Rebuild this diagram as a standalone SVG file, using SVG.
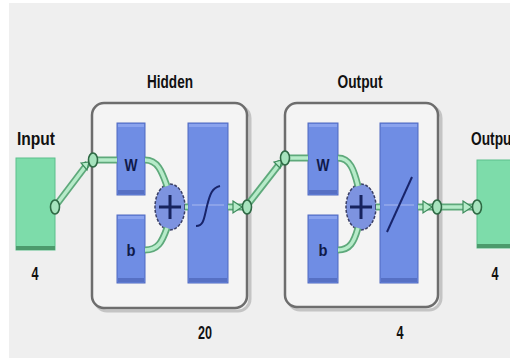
<svg xmlns="http://www.w3.org/2000/svg" width="510" height="358" viewBox="0 0 510 358">
<defs>
<style>
.t{font-family:"Liberation Sans","DejaVu Sans",sans-serif;font-weight:bold;font-size:18px;fill:#111;text-anchor:middle}
.lt{font-family:"Liberation Sans","DejaVu Sans",sans-serif;font-weight:bold;font-size:17px;fill:#0f1a4a;text-anchor:middle}
.layer{fill:#f4f4f4;stroke:#6d6d6d;stroke-width:2.5}
.shadow{fill:none;stroke:#c4c4c4;stroke-width:3}
.blue{fill:#6f8de4;stroke:#4f68c0;stroke-width:1}
.bhi{fill:#8aa3ee}
.blo{fill:#5670c4}
.green{fill:#7ddcaa;stroke:#5cbf8c;stroke-width:1}
.glo{fill:#4c9a6c}
.co{fill:none;stroke:#5ea97b;stroke-width:7;stroke-linecap:butt}
.ci{fill:none;stroke:#b6ebc9;stroke-width:3.5;stroke-linecap:butt}
.port{fill:#a6e3bd;stroke:#2f6a45;stroke-width:1.6}
.sum{fill:#7d93e0;stroke:#3a3f66;stroke-width:1.5;stroke-dasharray:3 1.5}
.plus{stroke:#17235e;stroke-width:3}
.fn{fill:none;stroke:#18246a;stroke-width:2}
.mid{stroke:#a9b8ee;stroke-width:1}
.arr{fill:#b6ebc9;stroke:#3c8a5b;stroke-width:1.2}
</style>
</defs>
<rect x="0" y="0" width="510" height="358" fill="#ffffff"/>
<rect x="9" y="3" width="501" height="355" fill="#efefef"/>

<g id="input">
<text class="t" x="36" y="145" textLength="38" lengthAdjust="spacingAndGlyphs">Input</text>
<rect class="green" x="16" y="158" width="39" height="92"/>
<rect class="glo" x="16" y="246" width="39" height="4"/>
<text class="t" x="35" y="280" textLength="7" lengthAdjust="spacingAndGlyphs">4</text>
</g>

<g id="hidden">
<text class="t" x="170" y="88" textLength="46" lengthAdjust="spacingAndGlyphs">Hidden</text>
<rect class="shadow" x="95" y="106" width="155" height="205" rx="12"/>
<rect class="layer" x="92" y="103" width="155" height="205" rx="12"/>
<rect class="blue" x="117" y="123" width="28" height="72"/>
<rect class="bhi" x="118" y="124" width="26" height="3"/>
<rect class="blo" x="118" y="190" width="26" height="4"/>
<text class="lt" x="131" y="171" textLength="13" lengthAdjust="spacingAndGlyphs">W</text>
<rect class="blue" x="117" y="215" width="28" height="68"/>
<rect class="bhi" x="118" y="216" width="26" height="3"/>
<rect class="blo" x="118" y="278" width="26" height="4"/>
<text class="lt" x="131" y="256" textLength="9" lengthAdjust="spacingAndGlyphs">b</text>
<ellipse class="sum" cx="170" cy="207" rx="15" ry="23"/>
<line class="plus" x1="170" y1="195" x2="170" y2="219"/>
<line class="plus" x1="159" y1="207" x2="181" y2="207"/>
<rect class="blue" x="188" y="123" width="40" height="160"/>
<rect class="bhi" x="189" y="124" width="38" height="3"/>
<rect class="blo" x="189" y="278" width="38" height="4"/>
<line class="mid" x1="192" y1="205" x2="224" y2="205"/>
<path class="fn" d="M196,226 C204,226 204,218 207,206 C210,194 212,188 220,186"/>
<text class="t" x="205" y="339" textLength="14" lengthAdjust="spacingAndGlyphs">20</text>
</g>

<g id="output-layer">
<text class="t" x="360" y="88" textLength="45" lengthAdjust="spacingAndGlyphs">Output</text>
<rect class="shadow" x="288" y="106" width="153" height="204" rx="12"/>
<rect class="layer" x="285" y="103" width="153" height="204" rx="12"/>
<rect class="blue" x="308" y="123" width="30" height="72"/>
<rect class="bhi" x="309" y="124" width="28" height="3"/>
<rect class="blo" x="309" y="190" width="28" height="4"/>
<text class="lt" x="323" y="171" textLength="13" lengthAdjust="spacingAndGlyphs">W</text>
<rect class="blue" x="308" y="215" width="30" height="68"/>
<rect class="bhi" x="309" y="216" width="28" height="3"/>
<rect class="blo" x="309" y="278" width="28" height="4"/>
<text class="lt" x="323" y="256" textLength="9" lengthAdjust="spacingAndGlyphs">b</text>
<ellipse class="sum" cx="361" cy="207" rx="15" ry="23"/>
<line class="plus" x1="361" y1="195" x2="361" y2="219"/>
<line class="plus" x1="350" y1="207" x2="372" y2="207"/>
<rect class="blue" x="380" y="123" width="38" height="160"/>
<rect class="bhi" x="381" y="124" width="36" height="3"/>
<rect class="blo" x="381" y="278" width="36" height="4"/>
<line class="mid" x1="384" y1="205" x2="414" y2="205"/>
<line class="fn" x1="387" y1="232" x2="412" y2="177"/>
<text class="t" x="400" y="339" textLength="7" lengthAdjust="spacingAndGlyphs">4</text>
</g>

<g id="output">
<text class="t" x="471" y="145" text-anchor="start" style="text-anchor:start" textLength="45" lengthAdjust="spacingAndGlyphs">Output</text>
<rect class="green" x="477" y="160" width="40" height="88"/>
<rect class="glo" x="477" y="244" width="40" height="4"/>
<text class="t" x="495" y="280" textLength="7" lengthAdjust="spacingAndGlyphs">4</text>
</g>

<g id="connectors">
<line class="co" x1="57" y1="204" x2="88" y2="163"/>
<line class="ci" x1="57" y1="204" x2="88" y2="163"/>
<path class="arr" d="M81,163 L89,162 L87,170 Z"/>
<line class="co" x1="96" y1="160" x2="117" y2="160"/>
<line class="ci" x1="96" y1="160" x2="117" y2="160"/>
<path class="co" d="M145,160 C158,160 162,172 167,186"/>
<path class="ci" d="M145,160 C158,160 162,172 167,186"/>
<path class="co" d="M145,250 C158,250 162,242 167,228"/>
<path class="ci" d="M145,250 C158,250 162,242 167,228"/>
<line class="co" x1="185" y1="207" x2="188" y2="207"/>
<line class="ci" x1="185" y1="207" x2="188" y2="207"/>
<line class="co" x1="228" y1="207" x2="244" y2="207"/>
<line class="ci" x1="228" y1="207" x2="244" y2="207"/>
<path class="arr" d="M233,201 L242,207 L233,213 Z"/>
<line class="co" x1="249" y1="203" x2="281" y2="162"/>
<line class="ci" x1="249" y1="203" x2="281" y2="162"/>
<path class="arr" d="M274,162 L282,160 L280,168 Z"/>
<line class="co" x1="288" y1="158" x2="308" y2="158"/>
<line class="ci" x1="288" y1="158" x2="308" y2="158"/>
<path class="co" d="M338,158 C350,158 354,170 358,186"/>
<path class="ci" d="M338,158 C350,158 354,170 358,186"/>
<path class="co" d="M338,250 C350,250 354,242 358,228"/>
<path class="ci" d="M338,250 C350,250 354,242 358,228"/>
<line class="co" x1="376" y1="207" x2="380" y2="207"/>
<line class="ci" x1="376" y1="207" x2="380" y2="207"/>
<line class="co" x1="418" y1="207" x2="434" y2="207"/>
<line class="ci" x1="418" y1="207" x2="434" y2="207"/>
<path class="arr" d="M423,201 L432,207 L423,213 Z"/>
<line class="co" x1="440" y1="207" x2="474" y2="207"/>
<line class="ci" x1="440" y1="207" x2="474" y2="207"/>
<path class="arr" d="M463,201 L472,207 L463,213 Z"/>
</g>

<g id="ports">
<ellipse class="port" cx="55" cy="207" rx="4.5" ry="7"/>
<ellipse class="port" cx="93" cy="160" rx="4.5" ry="7"/>
<ellipse class="port" cx="247" cy="207" rx="4.5" ry="7"/>
<ellipse class="port" cx="285" cy="158" rx="4.5" ry="7"/>
<ellipse class="port" cx="437" cy="207" rx="4.5" ry="7"/>
<ellipse class="port" cx="477" cy="207" rx="4.5" ry="7"/>
</g>
</svg>
